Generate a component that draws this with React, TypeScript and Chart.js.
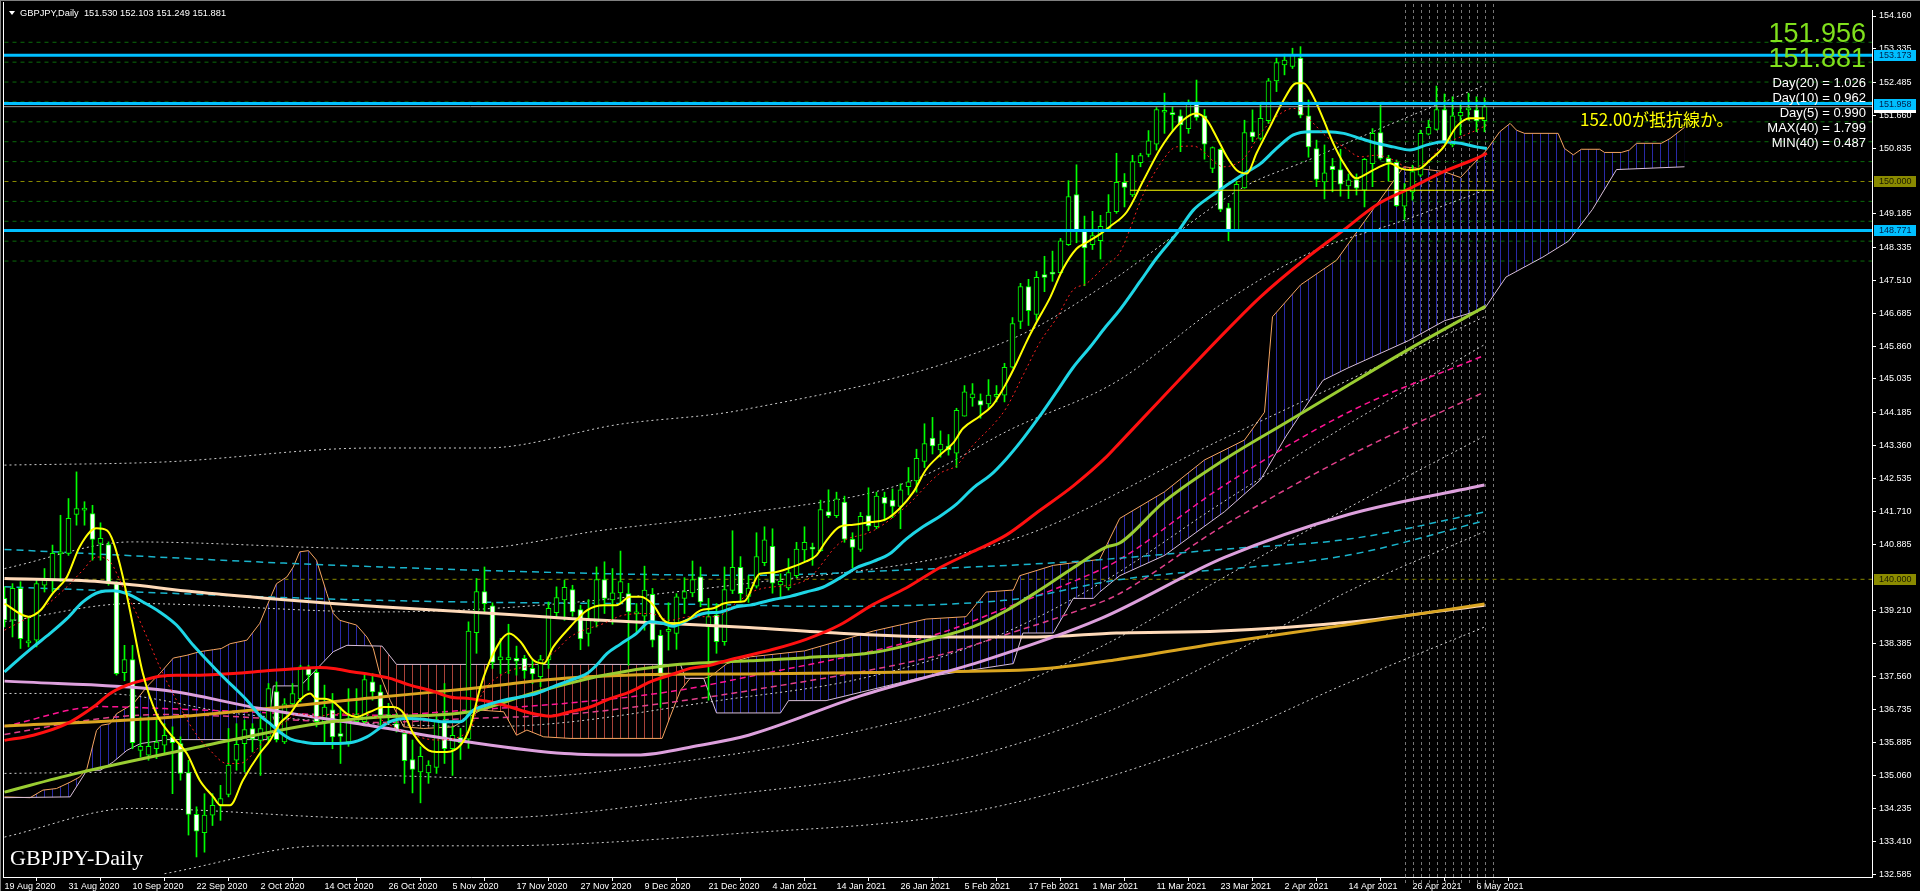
import React, { useEffect, useRef } from "react";
import { Chart, registerables } from "chart.js";
Chart.register(...registerables);

// ---------- axis data ----------
const xTickLabels = ["19 Aug 2020","31 Aug 2020","10 Sep 2020","22 Sep 2020","2 Oct 2020","14 Oct 2020","26 Oct 2020","5 Nov 2020","17 Nov 2020","27 Nov 2020","9 Dec 2020","21 Dec 2020","4 Jan 2021","14 Jan 2021","26 Jan 2021","5 Feb 2021","17 Feb 2021","1 Mar 2021","11 Mar 2021","23 Mar 2021","2 Apr 2021","14 Apr 2021","26 Apr 2021","6 May 2021"];
const barsPerLabel = 8;
const yTickValues = [154.16,153.335,152.485,151.66,150.835,149.185,148.335,147.51,146.685,145.86,145.035,144.185,143.36,142.535,141.71,140.885,139.21,138.385,137.56,136.735,135.885,135.06,134.235,133.41,132.585];

// ---------- daily OHLC (bar 0 = 19 Aug 2020) ----------
const opens = [139.52,138.97,139.77,138.40,138.47,139.85,139.98,140.64,140.65,141.63,141.74,141.65,140.90,140.87,139.89,137.65,137.98,135.70,135.58,135.74,135.83,136.04,135.87,135.14,134.09,133.63,134.07,134.32,134.59,135.45,135.87,136.25,135.95,136.04,137.18,135.91,136.87,137.00,137.76,137.66,136.42,136.72,136.12,135.91,136.42,136.42,137.42,137.17,136.60,136.37,136.12,135.47,135.16,135.13,135.27,136.43,135.74,136.02,135.98,138.66,139.69,139.33,137.97,137.98,138.01,138.01,137.76,137.55,137.97,139.16,139.48,139.74,139.24,138.64,138.93,139.99,139.48,139.66,139.64,139.13,139.07,139.62,138.59,138.69,138.64,139.52,139.66,140.06,138.80,139.10,138.43,139.72,140.30,139.57,139.83,140.42,140.83,139.86,139.78,140.09,140.74,140.80,140.72,141.70,141.60,141.94,141.01,140.75,141.60,141.32,142.06,141.99,141.83,142.33,142.47,142.96,143.55,143.25,143.35,143.17,144.10,144.56,144.49,144.41,144.60,144.63,145.33,146.48,147.36,146.66,147.66,147.71,147.71,148.41,149.67,148.77,148.41,148.51,148.82,149.24,149.98,149.66,150.47,150.68,150.94,151.74,151.73,151.65,151.33,152.00,151.65,150.33,150.81,149.34,148.76,149.84,151.25,151.08,151.53,152.53,152.93,152.89,153.10,151.65,150.83,149.99,150.39,150.30,149.89,150.05,149.78,150.45,151.23,150.58,150.48,149.38,149.74,150.16,151.19,151.31,151.81,150.92,151.65,151.80,151.80,151.530];
const highs = [139.81,139.89,139.94,139.06,140.02,140.27,140.86,141.61,142.03,142.70,141.95,141.86,141.42,140.94,139.94,138.34,138.34,136.54,136.54,136.54,136.37,136.29,136.04,135.45,134.28,134.61,134.61,134.82,136.25,136.37,136.46,136.37,136.62,137.38,137.42,137.00,137.38,137.84,137.84,137.80,137.34,137.13,136.79,137.25,137.25,137.59,137.63,137.34,136.88,136.62,136.16,135.96,135.79,135.44,136.54,137.38,136.29,136.25,138.93,140.02,140.31,139.41,138.51,138.87,138.32,138.09,137.98,138.09,139.43,139.81,139.98,139.85,139.35,139.49,140.31,140.44,140.27,140.71,139.90,139.39,140.33,139.77,138.72,139.41,139.64,140.04,140.46,140.31,139.52,139.39,140.31,141.22,140.57,140.09,141.17,141.32,141.27,140.14,140.52,140.93,141.32,140.91,141.99,142.25,142.19,142.09,141.17,141.68,142.30,142.19,142.19,142.27,142.40,142.81,143.27,143.91,144.07,143.73,143.64,144.30,144.87,144.92,144.66,145.02,144.87,145.43,146.58,147.44,147.54,147.74,148.12,148.25,148.57,150.02,150.42,149.13,149.25,149.15,149.67,150.71,150.20,150.66,150.71,151.28,151.86,152.22,151.88,151.80,152.05,152.55,151.81,150.87,150.83,149.45,150.00,151.54,151.80,151.92,152.59,153.10,153.20,153.35,153.39,152.05,151.04,150.92,150.58,150.81,150.19,150.19,150.58,151.33,151.96,150.66,150.54,149.95,150.41,151.29,151.54,152.40,152.20,152.13,151.96,152.22,152.13,152.103];
const lows = [138.80,138.55,138.26,138.30,138.30,139.68,139.68,139.94,140.60,141.36,141.36,140.48,140.48,139.85,137.59,137.45,135.74,135.53,135.45,135.49,135.62,134.61,134.95,133.57,133.02,133.14,133.81,133.94,134.53,135.20,135.16,135.66,135.07,135.91,135.91,135.87,136.79,136.92,137.21,136.29,135.87,135.74,135.37,135.80,136.37,136.37,136.96,136.33,136.37,136.16,134.87,134.63,134.38,134.87,135.12,135.37,135.07,135.47,135.75,138.14,139.18,137.76,137.63,137.63,137.59,137.51,137.38,137.30,137.76,139.02,138.97,139.07,138.23,138.32,138.80,139.14,138.87,139.41,137.84,138.64,138.72,138.30,136.78,138.22,138.24,139.14,139.56,139.31,136.96,138.14,138.34,139.64,139.43,139.42,139.78,140.34,139.65,139.52,139.73,140.04,140.45,140.35,140.70,141.55,141.55,140.93,140.29,140.70,141.22,141.27,141.47,141.55,141.27,142.12,142.19,142.81,143.15,143.07,143.12,142.81,144.10,144.35,144.05,144.30,144.46,144.46,145.31,146.30,146.38,146.51,147.23,147.49,147.69,148.39,148.46,147.38,148.29,148.05,148.77,149.20,149.36,149.62,150.37,150.62,150.79,151.21,151.25,150.75,151.21,151.54,150.56,150.22,149.24,148.51,148.74,149.83,151.00,151.04,151.46,152.26,152.68,152.84,151.60,150.61,149.87,149.56,149.74,149.63,149.57,149.66,149.36,149.87,150.54,150.01,149.37,149.05,149.53,150.12,151.17,151.29,150.96,150.87,151.17,151.54,151.25,151.249];
const closes = [138.97,139.77,138.51,138.42,139.89,139.99,140.65,140.68,141.53,141.78,141.76,141.00,141.03,139.89,137.63,137.98,135.89,135.80,135.80,135.91,136.08,135.89,135.12,134.09,133.67,134.07,134.32,134.49,135.33,135.85,136.22,135.99,136.25,137.25,135.97,136.87,137.13,137.80,137.59,136.42,136.79,136.04,136.05,136.50,136.60,137.48,137.17,136.58,136.52,136.22,135.44,135.22,135.55,135.33,136.46,135.74,136.08,135.89,138.70,139.69,139.39,137.91,138.05,138.01,137.94,137.70,137.62,137.98,139.27,139.54,139.80,139.18,138.50,138.97,139.99,139.52,139.66,139.94,139.18,139.15,139.73,138.47,137.57,138.71,139.56,139.69,139.99,139.43,139.06,138.43,139.74,140.30,139.64,139.78,140.57,140.99,139.90,139.95,140.17,140.76,140.93,140.76,141.75,141.60,142.02,141.01,140.80,141.58,141.34,142.09,141.91,141.83,142.25,142.45,143.04,143.41,143.35,143.40,143.25,144.25,144.71,144.66,144.38,144.63,144.62,145.33,146.43,147.36,146.75,147.59,147.59,147.67,148.51,149.62,148.77,148.33,148.64,148.87,149.23,149.98,149.85,150.50,150.65,151.02,151.81,151.76,151.68,151.42,151.96,151.61,150.94,150.85,149.30,148.76,149.93,151.23,151.12,151.59,152.53,152.99,153.05,153.18,151.67,150.87,150.05,150.22,150.30,149.93,150.04,149.83,150.56,151.21,150.58,150.48,149.39,149.76,150.25,151.21,151.36,151.81,150.99,151.65,151.74,151.82,151.52,151.881];

// ---------- indicator lines: [bar, price] ----------
const maYellow = [[0,139.39],[3,139.06],[4.5,139.22],[6,139.64],[7.8,140.06],[9.4,140.82],[11.5,141.28],[12.8,141.23],[13.6,140.94],[14.8,140.06],[16.1,138.8],[17.3,137.63],[19,136.62],[21,136.04],[22.8,135.62],[24.4,134.95],[26.1,134.53],[27,134.32],[28.2,134.32],[29.8,134.95],[31.9,135.62],[33.2,135.95],[34.4,136.37],[35.7,136.62],[36.9,136.96],[38.2,137.13],[39,137.0],[40,137.0],[41.1,136.92],[42.8,136.62],[44,136.54],[45.7,136.67],[47.4,136.79],[48.6,136.79],[49.9,136.63],[51.1,136.12],[53,135.7],[54,135.66],[55.3,135.66],[57,135.83],[58.2,136.29],[59.5,137.3],[61.1,138.13],[63.1,138.64],[64.5,138.43],[66.1,137.97],[67.4,137.88],[68.6,138.3],[70.7,138.8],[72.8,139.22],[74.9,139.35],[76.5,139.35],[78.2,139.56],[79.5,139.56],[81.1,139.35],[82.4,138.97],[83.6,138.89],[85.3,138.97],[87,139.22],[88.6,139.27],[89.9,139.39],[91.1,139.43],[92.5,139.45],[94.4,140.14],[96,140.17],[98.2,140.29],[100.2,140.45],[101.5,140.6],[102.7,140.96],[104.4,141.32],[106.1,141.37],[107.7,141.42],[110.2,141.51],[111.9,141.78],[113.6,142.19],[115.2,142.76],[116.9,143.12],[118.6,143.43],[119.8,143.79],[121.9,144.1],[123.6,144.4],[125.2,144.92],[126.5,145.43],[127.7,145.95],[129,146.46],[130.7,147.08],[132.3,147.8],[134,148.31],[135.2,148.46],[136.9,148.67],[138.2,148.87],[140.3,149.24],[142.4,150.04],[144.5,150.83],[146.5,151.38],[148.2,151.67],[149,151.71],[150.3,151.54],[151.5,151.12],[152.8,150.62],[154,150.29],[155.3,150.2],[156.5,150.71],[158.2,151.38],[159.9,152.05],[161.5,152.47],[162.4,152.47],[163.6,152.13],[164.9,151.54],[166.1,150.96],[167.4,150.46],[169,150.08],[170.3,150.2],[171.5,150.33],[173.2,150.46],[174.5,150.33],[175.7,150.29],[177,150.33],[178.2,150.54],[179.9,150.87],[181.5,151.38],[183.2,151.59],[185,151.59]];
const maRedDotted = [[0,138.72],[4.4,139.22],[7.8,139.81],[9.8,140.23],[11.5,140.56],[13.2,140.44],[14.8,139.81],[16.1,139.31],[17.8,138.55],[19.4,137.8],[21.5,136.96],[23.6,136.21],[25.7,135.7],[27.8,135.37],[29.4,135.37],[31.1,135.62],[32.8,136.04],[34.8,136.37],[36.9,136.62],[39,136.54],[41.1,136.62],[43.2,136.62],[45.3,136.6],[49.9,136.17],[54,135.96],[58.2,136.21],[59.5,137.04],[62.4,137.63],[66.5,137.88],[69,138.22],[70.7,138.55],[74.9,138.89],[77.4,139.1],[80.7,139.14],[83.2,138.97],[85.7,139.06],[89,139.06],[91.5,139.41],[94,139.73],[100.2,139.98],[104.4,140.91],[108.6,141.22],[112.7,141.83],[116.9,142.66],[119,142.86],[121.1,143.38],[123.6,143.89],[125.2,144.3],[127.3,145.12],[129.4,145.95],[131.5,146.56],[133.6,147.28],[135.2,147.43],[137.7,147.9],[139.4,148.21],[142.4,149.7],[144.5,150.45],[146.5,150.87],[148.6,150.89],[152.4,150.37],[154.9,150.58],[157,151.21],[159,151.63],[161.1,151.84],[163.2,151.54],[165.3,151.12],[167.4,150.87],[169.5,150.62],[171.5,150.66],[173.6,150.54],[175.7,150.33],[177.8,150.5],[179.9,150.92],[182,151.12],[184,151.29],[185.3,151.42]];
const maCyan = [[0,137.67],[1.9,138.01],[3.6,138.3],[5.7,138.64],[7.8,139.01],[9.8,139.43],[11.9,139.68],[13.6,139.71],[15.3,139.64],[17.3,139.43],[19.4,139.18],[21.5,138.85],[23.6,138.34],[25.3,137.97],[26.9,137.63],[28.6,137.3],[30.3,136.96],[31.9,136.58],[33.2,136.37],[34.4,136.16],[35.7,135.99],[37.3,135.91],[39,135.87],[41.1,135.87],[43.2,135.89],[45.3,136.04],[48.2,136.42],[50.3,136.5],[52.4,136.48],[54.9,136.42],[57,136.42],[58.6,136.71],[60.3,136.84],[62.4,136.96],[64.5,137.04],[66.5,137.13],[68.6,137.3],[70.7,137.46],[72.8,137.63],[74,137.84],[75.3,138.13],[77,138.37],[79,138.64],[80.7,138.93],[82.4,138.89],[83.6,138.82],[85.3,138.97],[87.4,139.14],[89.5,139.18],[91.5,139.31],[93.2,139.35],[96.1,139.49],[98.2,139.57],[100.2,139.68],[102.3,139.8],[104.4,140.03],[106.5,140.29],[108.6,140.45],[110.7,140.65],[112.7,141.01],[114.8,141.32],[116.9,141.58],[119,141.89],[121.1,142.3],[123.2,142.61],[125.2,143.02],[127.3,143.53],[129.4,144.1],[131.5,144.71],[133.6,145.33],[135.7,145.84],[137.7,146.36],[139.4,146.77],[142,147.5],[144,148.07],[146.5,148.69],[148.6,149.28],[150.7,149.62],[152.8,149.91],[154.9,150.19],[157,150.45],[159,150.83],[161.1,151.17],[163.2,151.25],[165.3,151.25],[167.4,151.21],[169.5,151.08],[171.5,150.96],[173.6,150.87],[175.7,150.79],[177.8,150.92],[179.9,151.0],[182,150.96],[184,150.87],[185.3,150.83]];
const maRed = [[0,135.95],[3.6,136.08],[7.8,136.37],[11.1,136.79],[13.2,137.13],[15.3,137.34],[17.3,137.46],[19.4,137.56],[21.5,137.59],[24.4,137.59],[28.6,137.63],[32.8,137.7],[36.9,137.76],[39.4,137.78],[41.1,137.76],[43.6,137.67],[45.7,137.61],[48.2,137.51],[50.7,137.34],[53.2,137.21],[55.7,137.04],[58.2,137.0],[60.7,136.92],[63.2,136.79],[65.7,136.64],[68.2,136.56],[70.7,136.67],[73.2,136.79],[75.7,137.0],[78.2,137.17],[80.7,137.42],[83.2,137.59],[85.7,137.76],[88.2,137.84],[90.7,137.98],[96.1,138.24],[100.2,138.49],[104.4,138.85],[108.6,139.37],[112.7,139.78],[116.9,140.29],[121.1,140.7],[125.2,141.11],[129.4,141.73],[133.6,142.35],[137.7,143.07],[139.4,143.43],[144.9,144.6],[152.5,146.2],[157,147.1],[162.4,148.02],[167.4,148.78],[171.5,149.41],[175.7,149.83],[179.9,150.25],[184,150.58],[185.3,150.71]];
const maYellowGreen = [[0,134.65],[9,135.12],[24.4,135.79],[39,136.37],[45.7,136.52],[58.2,136.67],[66.5,137.17],[74.9,137.59],[83.2,137.84],[93.2,137.95],[100.2,138.03],[108.6,138.16],[116.9,138.55],[121.1,138.81],[125.2,139.21],[129.4,139.73],[133.6,140.29],[137.7,140.81],[139.4,140.91],[144.9,141.94],[152.5,143.01],[160.2,143.94],[167.8,144.86],[175.5,145.78],[185.1,146.86]];
const maPlum = [[0,137.44],[20,137.21],[32,136.75],[46,136.31],[58,135.91],[70,135.62],[79,135.58],[87,135.83],[93,136.08],[107,137.07],[122,137.93],[137,139.01],[152.5,140.55],[168,141.63],[185,142.37]];
const maGold = [[0,136.31],[20,136.52],[47,137.04],[58,137.25],[70,137.51],[83,137.61],[93,137.62],[113,137.67],[129,137.74],[139,137.98],[152,138.4],[168,138.86],[185,139.38]];
const maPeach = [[0,140.02],[12,139.94],[24,139.68],[33,139.52],[41,139.39],[47,139.31],[58,139.18],[71,139.01],[83,138.89],[93,138.79],[104,138.65],[117,138.55],[129,138.55],[139,138.65],[152,138.7],[168,138.92],[185,139.35]];
const cyanDashUpper = [[0,140.75],[47,140.31],[93,140.1],[113,140.24],[134,140.45],[152,140.75],[168,141.01],[185,141.69]];
const cyanDashLower = [[0,139.81],[47,139.47],[93,139.35],[100,139.32],[125,139.47],[139,139.98],[168,140.61],[185,141.47]];
const pinkDash1 = [[0,136.3],[12,136.8],[20,136.75],[46,136.58],[58,136.71],[70,136.88],[83,137.17],[93,137.55],[117,138.65],[125,139.27],[134,139.98],[139,140.45],[152,142.3],[168,144.2],[185,145.63]];
const pinkDash2 = [[0,136.1],[12,136.5],[20,136.6],[46,136.4],[58,136.5],[70,136.6],[83,136.9],[93,137.2],[117,138.1],[125,138.6],[134,139.2],[139,139.6],[152,141.3],[168,143.1],[185,144.71]];
const bandLines = [
  [[0,142.87],[20,142.95],[46,143.3],[60,143.3],[77,143.9],[92,144.25],[126,146.05],[139,147.59],[142,148.02],[155,149.87],[163,150.54],[171.5,151.29],[185,152.42]],
  [[0,140.27],[16,140.94],[47,140.77],[58,140.77],[75,141.24],[92,141.65],[113,142.45],[126,143.79],[139,144.97],[152,146.9],[163,148.19],[175,149.03],[185,149.78]],
  [[0,138.93],[16,139.39],[47,139.18],[93,139.9],[126,141.0],[152,143.5],[185,146.6]],
  [[0,137.13],[12,137.13],[30,136.6],[61,136.3],[91,137.0],[107,137.5],[122,138.4],[137,139.9],[152,141.9],[168,143.9],[185,145.9]],
  [[0,135.12],[16,135.15],[47,135.07],[61,135.0],[91,135.6],[107,136.2],[122,137.0],[137,138.3],[152,140.0],[168,141.8],[185,143.6]],
  [[0,133.52],[16,134.24],[47,133.99],[61,134.0],[91,134.6],[107,135.0],[122,135.6],[137,136.6],[152,138.0],[168,139.7],[185,141.2]],
  [[20,132.6],[40,133.3],[61,133.3],[91,133.6],[122,134.2],[152,136.0],[168,137.4],[185,138.8]],
];
const senkouA = [[0,134.53],[3.2,134.51],[4.8,134.7],[6.5,134.74],[8.2,134.9],[9.4,135.03],[10.3,135.24],[11.5,136.2],[12.1,136.33],[13.2,136.37],[14,136.62],[16.1,136.87],[17.8,137.3],[19.4,137.63],[21.1,138.02],[22.8,138.09],[24.4,138.18],[26.1,138.23],[27.1,138.26],[28.2,138.38],[30.3,138.47],[31.9,138.89],[33.2,139.52],[34,139.89],[35.3,140.06],[36.1,140.31],[36.9,140.69],[38,140.72],[39,140.48],[40.3,139.64],[41.1,139.14],[41.9,138.97],[44,138.85],[45.3,138.55],[46.1,138.26],[46.9,137.63],[48.2,136.96],[49.9,136.29],[52.4,136.25],[56.1,136.29],[59.5,136.71],[62.4,136.67],[64,136.08],[65.3,136.21],[67.4,136.04],[70.7,136.0],[82.2,136.0],[83.2,136.54],[84.5,137.21],[85.7,137.51],[87.4,137.51],[88.2,137.55],[90.3,137.88],[93.2,138.05],[100,138.2],[108.6,138.7],[115.2,139.0],[120.2,139.06],[122.7,139.68],[126.1,139.73],[126.9,140.09],[131.1,140.35],[136.9,140.5],[139.4,141.53],[145,142.2],[150,143.0],[155,143.5],[157.5,144.2],[158.5,146.6],[162,147.4],[166.5,148.02],[170,149.0],[174.9,150.37],[179.9,150.25],[182,150.1],[185.3,150.8],[186.9,151.25],[188.2,151.46],[189,151.29],[190,151.21],[194.2,151.21],[195,150.83],[196.1,150.67],[197.1,150.81],[199.4,150.81],[200,150.73],[202.1,150.73],[203.1,150.79],[204,150.96],[207.1,150.96],[208.2,151.08],[210,151.36]];
const senkouB = [[0,134.51],[8.2,134.53],[10.3,135.2],[12,135.2],[13.6,135.41],[15.3,135.7],[17,135.87],[20.3,135.97],[32.8,135.97],[33.6,137.32],[37,137.32],[41.1,138.18],[42.8,138.34],[47.2,138.32],[49,137.86],[84.5,137.86],[85.1,137.51],[87.4,137.51],[89,136.64],[97,136.64],[98,136.95],[102.7,136.95],[114.4,137.52],[126.1,137.88],[127.3,138.65],[131.1,138.65],[133.6,139.52],[136.1,139.52],[136.9,139.68],[139.4,140.09],[145,140.6],[152.5,141.7],[157,142.5],[160.2,143.6],[164.8,145.0],[167.8,145.3],[175.5,146.0],[180,146.5],[185,146.8],[187.7,147.6],[192.3,148.1],[195.5,148.5],[198.5,149.3],[201.5,150.3],[210,150.37]];

// ---------- horizontal objects ----------
const cyanLevels = [153.173, 151.958, 148.771];
const bidLevel = 151.881;
const roundLevels = [150.0, 140.0];
const greenGridLevels = [148.0,148.5,149.0,149.5,150.5,151.0,151.5,152.0,152.5,153.0,153.5];
const yellowSegment = [[140.7,149.78],[186.2,149.78]];
const separatorBars = [175,176,177,178,179,180,181,182,183,184,185,186];
const headerText = "GBPJPY,Daily  151.530 152.103 151.249 151.881";
const bigValues = ["151.956", "151.881"];
const statLines = ["Day(20) = 1.026", "Day(10) = 0.962", "Day(5) = 0.990", "MAX(40) = 1.799", "MIN(40) = 0.487"];
const noteText = "152.00が抵抗線か。";
const symbolText = "GBPJPY-Daily";

const FONT = '"Liberation Sans", Arial, sans-serif';

function pts(arr: number[][]) {
  return arr.map(([x, y]) => ({ x, y }));
}

function makePattern(color: string) {
  const c = document.createElement("canvas");
  c.width = 8; c.height = 4;
  const g = c.getContext("2d")!;
  g.fillStyle = color;
  g.fillRect(4, 0, 1, 4);
  return g.createPattern(c, "repeat")!;
}

export default function App() {
  const ref = useRef<HTMLCanvasElement>(null);
  useEffect(() => {
    const canvas = ref.current!;
    Chart.defaults.font.family = FONT;
    const bluePat = makePattern("#2a2aa6");
    const redPat = makePattern("#a8433a");

    const lineDs = (data: number[][], color: string, width: number, order: number, dash: number[] = [], extra: any = {}) => ({
      type: "line", data: pts(data), borderColor: color, borderWidth: width, pointRadius: 0,
      borderDash: dash, fill: false, cubicInterpolationMode: "monotone", order, ...extra,
    });
    const levelDs = (v: number, color: string, width: number, order: number, dash: number[] = []) => ({
      type: "line", data: [{ x: -2, y: v }, { x: 240, y: v }], borderColor: color, borderWidth: width,
      pointRadius: 0, borderDash: dash, fill: false, order,
    });

    const datasets: any[] = [];
    const idxA = datasets.length;
    datasets.push(lineDs(senkouA, "#f4a460", 1, 300, [], { cubicInterpolationMode: "default", tension: 0, fill: { target: idxA + 1, above: bluePat, below: redPat } }));
    datasets.push(lineDs(senkouB, "#d8bfd8", 1, 299, [], { cubicInterpolationMode: "default", tension: 0 }));
    greenGridLevels.forEach((v) => datasets.push(levelDs(v, "#0b6a0b", 1, 310, [4, 4])));
    roundLevels.forEach((v) => datasets.push(levelDs(v, "#8a8a00", 1, 310, [4, 4])));
    bandLines.forEach((b) => datasets.push(lineDs(b, "#cfcfcf", 1, 280, [2, 3])));
    datasets.push(lineDs(cyanDashUpper, "#19b4cc", 1.5, 270, [7, 5]));
    datasets.push(lineDs(cyanDashLower, "#19b4cc", 1.5, 270, [7, 5]));
    datasets.push(lineDs(pinkDash1, "#ff1493", 1.5, 270, [6, 4]));
    datasets.push(lineDs(pinkDash2, "#e0408a", 1.5, 270, [6, 4]));
    datasets.push({
      type: "bar", data: closes.map((c, i) => ({ x: i, y: [opens[i], c] })),
      backgroundColor: closes.map((c, i) => (c < opens[i] ? "#ffffff" : "#000000")),
      borderColor: "#00ff00", borderWidth: 1, borderSkipped: false, barThickness: 5,
      minBarLength: 2, grouped: false, order: 200,
    });
    datasets.push({
      type: "bar", data: highs.map((h, i) => ({ x: i, y: [lows[i], h] })),
      backgroundColor: "#00ff00", barThickness: 1, grouped: false, order: 201,
    });
    datasets.push(lineDs(maPeach, "#ffdab9", 3, 60));
    datasets.push(lineDs(maGold, "#daa520", 3, 59));
    datasets.push(lineDs(maPlum, "#dda0dd", 3, 58));
    datasets.push(lineDs(maYellowGreen, "#9acd32", 3, 57));
    datasets.push(lineDs(maRed, "#ff1010", 3, 56));
    datasets.push(lineDs(maCyan, "#1ed6e6", 3, 55));
    datasets.push(lineDs(maRedDotted, "#ff2020", 1, 54, [2, 3]));
    datasets.push(lineDs(maYellow, "#ffff00", 2, 53));
    datasets.push(lineDs(yellowSegment, "#ffff00", 1, 20, [], { cubicInterpolationMode: "default" }));
    datasets.push(levelDs(bidLevel, "#a0a0a0", 1, 15));
    cyanLevels.forEach((v) => datasets.push(levelDs(v, "#00bfff", 3, 10)));

    const bgPlugin = {
      id: "bg",
      beforeDraw(chart: any) {
        const ctx = chart.ctx;
        ctx.save();
        ctx.fillStyle = "#000";
        ctx.fillRect(0, 0, chart.width, chart.height);
        ctx.restore();
      },
      beforeDatasetsDraw(chart: any) {
        const ctx = chart.ctx;
        const x = chart.scales.x;
        const a = chart.chartArea;
        ctx.save();
        ctx.strokeStyle = "#767676";
        ctx.lineWidth = 1;
        ctx.setLineDash([3, 3]);
        separatorBars.forEach((b) => {
          const px = Math.round(x.getPixelForValue(b)) + 0.5;
          ctx.beginPath();
          ctx.moveTo(px, 4);
          ctx.lineTo(px, a.bottom + 6);
          ctx.stroke();
        });
        ctx.restore();
      },
    };

    const overlayPlugin = {
      id: "overlay",
      afterDraw(chart: any) {
        const ctx = chart.ctx;
        const y = chart.scales.y;
        const a = chart.chartArea;
        ctx.save();
        ctx.fillStyle = "#808080";
        ctx.fillRect(0, 0, chart.width, 1);
        ctx.fillRect(0, 0, 1, chart.height);
        ctx.fillStyle = "#ffffff";
        ctx.fillRect(a.left - 1, 2, 1, a.bottom - 1);
        const box = (v: number, bg: string, fg: string) => {
          const py = Math.round(y.getPixelForValue(v));
          ctx.fillStyle = bg;
          ctx.fillRect(a.right + 2, py - 5, 42, 11);
          ctx.fillStyle = fg;
          ctx.font = `9px ${FONT}`;
          ctx.textAlign = "left";
          ctx.textBaseline = "middle";
          ctx.fillText(v.toFixed(3), a.right + 7, py + 1);
        };
        box(bidLevel, "#ffffff", "#000000");
        roundLevels.forEach((v) => box(v, "#8a8a00", "#1a1a00"));
        cyanLevels.forEach((v) => box(v, "#00bfff", "#00204a"));
        ctx.fillStyle = "#ffffff";
        ctx.beginPath();
        ctx.moveTo(9, 11); ctx.lineTo(15, 11); ctx.lineTo(12, 15); ctx.closePath(); ctx.fill();
        ctx.font = `9.3px ${FONT}`;
        ctx.textAlign = "left";
        ctx.textBaseline = "alphabetic";
        ctx.fillText(headerText, 20, 16);
        ctx.fillStyle = "#80e01c";
        ctx.font = `27px ${FONT}`;
        ctx.textAlign = "right";
        ctx.fillText(bigValues[0], 1866, 42);
        ctx.fillText(bigValues[1], 1866, 67);
        ctx.fillStyle = "#ffffff";
        ctx.font = `13px ${FONT}`;
        const statY = [87, 102, 117, 132, 147];
        statLines.forEach((t, i) => ctx.fillText(t, 1866, statY[i]));
        ctx.fillStyle = "#ffff00";
        ctx.font = `17px "Noto Sans CJK JP", ${FONT}`;
        ctx.textAlign = "left";
        ctx.fillText(noteText, 1580, 126);
        ctx.fillStyle = "#ffffff";
        ctx.font = `22px "Liberation Serif", "Times New Roman", serif`;
        ctx.fillText(symbolText, 10, 865);
        ctx.restore();
      },
    };

    const chart = new Chart(canvas, {
      type: "bar",
      data: { datasets },
      options: {
        responsive: false,
        animation: false,
        devicePixelRatio: 1,
        events: [],
        layout: { padding: { left: 4, top: 10, right: 0, bottom: 0 } },
        plugins: { legend: { display: false }, tooltip: { enabled: false }, filler: { propagate: false } },
        scales: {
          x: {
            type: "linear", min: -0.0625, max: 233.4375, offset: false,
            afterBuildTicks: (s: any) => { s.ticks = xTickLabels.map((_, k) => ({ value: k * barsPerLabel })); },
            afterFit: (s: any) => { s.height = 14; },
            ticks: {
              autoSkip: false, maxRotation: 0, minRotation: 0, align: "start", padding: 0,
              color: "#ffffff", font: { size: 9, family: FONT },
              callback: (v: any) => xTickLabels[Math.round(Number(v) / barsPerLabel)] ?? "",
            },
            grid: { drawOnChartArea: false, drawTicks: true, tickLength: 4, color: "#ffffff" },
            border: { display: true, color: "#ffffff", width: 1 },
          },
          y: {
            position: "right", min: 132.516, max: 154.311,
            afterBuildTicks: (s: any) => { s.ticks = yTickValues.map((v) => ({ value: v })); },
            afterFit: (s: any) => { s.width = 48; },
            ticks: {
              autoSkip: false, padding: 3, color: "#ffffff", font: { size: 9, family: FONT },
              callback: (v: any) => Number(v).toFixed(3),
            },
            grid: { drawOnChartArea: false, drawTicks: true, tickLength: 4, color: "#ffffff" },
            border: { display: true, color: "#ffffff", width: 1 },
          },
        },
      } as any,
      plugins: [bgPlugin, overlayPlugin],
    } as any);
    return () => chart.destroy();
  }, []);

  return (
    <div style={{ position: "fixed", left: 0, top: 0, width: 1920, height: 891, background: "#000" }}>
      <canvas ref={ref} width={1920} height={891} style={{ display: "block", width: 1920, height: 891 }} />
    </div>
  );
}
